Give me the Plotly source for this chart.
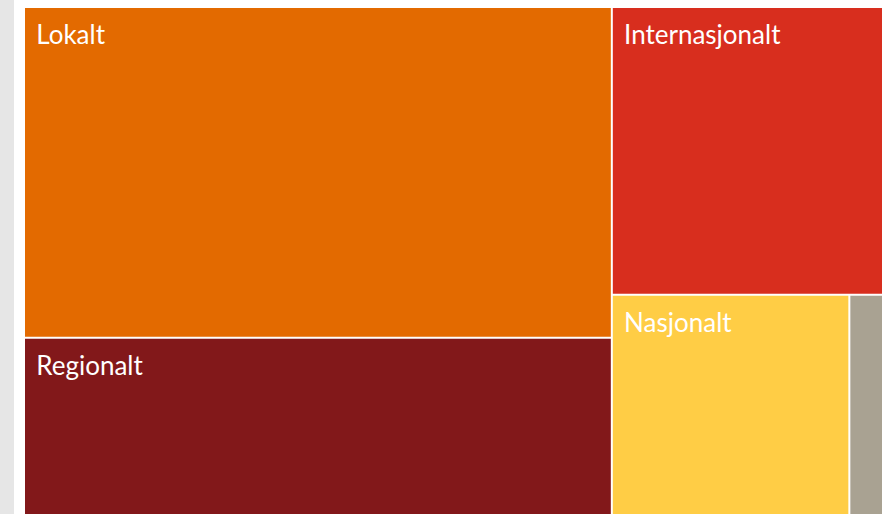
import plotly.graph_objects as go

# Data (share of total, read from tile areas)
labels = ["Lokalt", "Regionalt", "Internasjonalt", "Nasjonalt", "Annet"]
values = [44.6, 23.9, 17.9, 12.0, 1.7]
colors = ["#E36A00", "#82181A", "#D82E1E", "#FFCD45", "#A9A292"]
show_text = ["<span style='font-size:33px'>\u2009\u2009</span>%{label}"] * 4 + [""]

fig = go.Figure(go.Treemap(
    labels=labels,
    parents=[""] * len(labels),
    values=values,
    marker=dict(colors=colors, line=dict(width=0), pad=dict(t=0, l=0, r=0, b=0)),
    texttemplate=show_text,
    textposition="top left",
    textfont=dict(family="Lato", size=26, color="white"),
    tiling=dict(packing="squarify", squarifyratio=1.9, pad=2),
    pathbar=dict(visible=False),
    sort=True,
    hoverinfo="label+value",
))

fig.update_layout(
    width=882, height=514,
    margin=dict(l=25, r=0, t=8, b=0),
    paper_bgcolor="white",
    showlegend=False,
    shapes=[dict(type="rect", xref="paper", yref="paper",
                 x0=-25 / 857, x1=-11 / 857, y0=-0.1, y1=1.1,
                 fillcolor="#E6E6E6", line=dict(width=0), layer="below")],
)

fig.write_html("out.html", config={"displayModeBar": False},
               post_script="document.body.style.margin='0px';")
